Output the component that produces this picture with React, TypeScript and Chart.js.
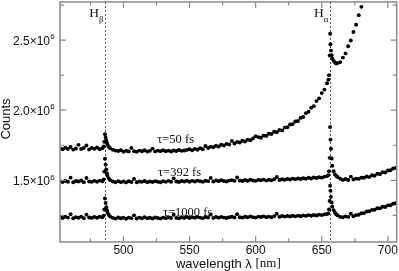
import React, { useEffect, useRef } from "react";
import { Chart, registerables } from "chart.js";

Chart.register(...registerables);

// wavelength in nm
const wavelengths = [
  452, 454, 456, 458, 460, 462, 464, 466, 468, 470, 472, 474, 476, 478, 480, 482, 484,
  485, 485.5, 486, 486.5, 487, 487.5, 488, 489,
  490, 492, 494, 496, 498, 500, 502, 504, 506, 508,
  510, 512, 514, 516, 518, 520, 522, 524, 526, 528,
  530, 532, 534, 536, 538, 540, 542, 544, 546, 548,
  550, 552, 554, 556, 558, 560, 562, 564, 566, 568,
  570, 572, 574, 576, 578, 580, 582, 584, 586, 588,
  590, 592, 594, 596, 598, 600, 602, 604, 606, 608,
  610, 612, 614, 616, 618, 620, 622, 624, 626, 628,
  630, 632, 634, 636, 638, 640, 642, 644, 646, 648,
  650, 652, 654,
  655, 655.5, 656, 656.3, 656.6, 657, 657.5, 658, 659, 660, 661,
  662, 664, 666, 668, 670, 672, 674, 676, 678, 680,
  682, 684, 686, 688, 690, 692, 694, 696, 698, 700,
  702, 704, 706,
];

// counts, in thousands
const counts50 = [
  1728, 1721, 1732, 1724, 1737, 1719, 1727, 1753, 1723, 1730, 1748, 1720, 1731, 1725, 1734, 1722, 1729,
  1742, 1775, 1828, 1806, 1784, 1766, 1753, 1738,
  1728, 1718, 1712, 1709, 1715, 1704, 1711, 1706, 1731, 1708,
  1703, 1712, 1707, 1714, 1705, 1710, 1726, 1706, 1712, 1708,
  1714, 1707, 1712, 1705, 1713, 1709, 1716, 1710, 1713, 1717,
  1722, 1714, 1724, 1718, 1729, 1722, 1745, 1730, 1740, 1736,
  1746, 1741, 1754, 1748, 1760, 1755, 1781, 1762, 1774, 1770,
  1782, 1777, 1790, 1786, 1799, 1814, 1808, 1804, 1819, 1816,
  1832, 1830, 1846, 1843, 1859, 1856, 1876, 1878, 1898, 1901,
  1919, 1923, 1945, 1952, 1979, 1989, 2017, 2029, 2065, 2084,
  2122, 2147, 2192,
  2218, 2250, 2390, 2545, 2470, 2425, 2392, 2368, 2352, 2340, 2333,
  2336, 2343, 2375, 2405, 2456, 2497, 2558, 2609, 2678, 2737,
  2810, null, null, null, null, null, null, null, null, null,
  null, null, null,
];

const counts392 = [
  1494, 1488, 1497, 1490, 1519, 1486, 1495, 1491, 1499, 1487, 1516, 1492, 1489, 1496, 1490, 1498, 1493,
  1506, 1562, 1654, 1612, 1578, 1550, 1531, 1512,
  1501, 1492, 1486, 1494, 1487, 1491, 1485, 1493, 1488, 1510,
  1486, 1492, 1489, 1495, 1487, 1491, 1488, 1494, 1490, 1486,
  1493, 1489, 1496, 1490, 1514, 1492, 1488, 1495, 1491, 1497,
  1490, 1496, 1492, 1498, 1493, 1489, 1497, 1494, 1516, 1492,
  1499, 1494, 1500, 1495, 1492, 1498, 1501, 1496, 1520, 1499,
  1495, 1502, 1497, 1504, 1499, 1496, 1503, 1500, 1505, 1498,
  1504, 1500, 1507, 1524, 1502, 1508, 1504, 1510, 1506, 1512,
  1507, 1513, 1509, 1515, 1511, 1518, 1513, 1520, 1516, 1522,
  1519, 1526, 1530,
  1536, 1565, 1660, 1880, 1790, 1725, 1655, 1604, 1565, 1542, 1530,
  1524, 1511, 1503, 1509, 1502, 1526, 1506, 1512, 1510, 1519,
  1518, 1527, 1523, 1536, 1533, 1547, 1544, 1558, 1556, 1570,
  1572, 1584, 1589,
];

const counts1000 = [
  1238, 1231, 1240, 1234, 1258, 1229, 1237, 1233, 1241, 1230, 1255, 1235, 1232, 1239, 1233, 1240, 1236,
  1248, 1292, 1370, 1338, 1308, 1287, 1269, 1253,
  1241, 1232, 1227, 1235, 1229, 1233, 1226, 1234, 1230, 1250,
  1228, 1234, 1229, 1236, 1230, 1233, 1228, 1235, 1231, 1227,
  1234, 1230, 1236, 1231, 1254, 1232, 1229, 1236, 1232, 1238,
  1231, 1237, 1233, 1239, 1234, 1230, 1238, 1235, 1256, 1232,
  1238, 1233, 1239, 1234, 1231, 1237, 1240, 1235, 1258, 1237,
  1234, 1240, 1236, 1242, 1237, 1234, 1241, 1238, 1243, 1236,
  1241, 1237, 1244, 1261, 1239, 1245, 1241, 1246, 1242, 1247,
  1243, 1248, 1244, 1250, 1246, 1252, 1247, 1253, 1249, 1255,
  1252, 1257, 1260,
  1264, 1292, 1352, 1462, 1425, 1382, 1342, 1312, 1287, 1269, 1257,
  1251, 1239, 1236, 1243, 1239, 1262, 1244, 1252, 1254, 1265,
  1266, 1278, 1279, 1289, 1290, 1301, 1300, 1311, 1310, 1321,
  1322, 1333, 1336,
];

const seriesNames = ["τ=50 fs", "τ=392 fs", "τ=1000 fs"];
// label anchor (wavelength, counts in thousands) for each series name
const seriesLabelAnchors = [
  [525.6, 1788],
  [526.2, 1554],
  [529.9, 1270],
];

const xTicks = [500, 550, 600, 650, 700];
const xMinorTicks = [475, 525, 575, 625, 675];
const yTicks = [1500, 2000, 2500];
const yTickMantissas = ["1.5", "2.0", "2.5"];
const yExponent = "6";
const yMinorTicks = [1250, 1750, 2250, 2750];

const lineWavelengths = [486, 656];
const lineSubscripts = ["β", "α"];

const SANS = "'Liberation Sans', Arial, Helvetica, sans-serif";
const SERIF = "'Liberation Serif', 'Times New Roman', serif";

const decorPlugin = {
  id: "decor",
  beforeDatasetsDraw(chart: any) {
    const { ctx, chartArea: a, scales } = chart;
    const x = scales.x;
    ctx.save();
    ctx.strokeStyle = "#555";
    ctx.lineWidth = 1;
    ctx.setLineDash([2, 2]);
    lineWavelengths.forEach((w) => {
      const px = Math.round(x.getPixelForValue(w)) + 0.5;
      ctx.beginPath();
      ctx.moveTo(px, a.top);
      ctx.lineTo(px, a.bottom);
      ctx.stroke();
    });
    ctx.restore();
  },
  afterDraw(chart: any) {
    const { ctx, chartArea: a, scales } = chart;
    const x = scales.x;
    const y = scales.y;
    ctx.save();
    // frame
    ctx.strokeStyle = "#8a8a8a";
    ctx.lineWidth = 1.5;
    ctx.strokeRect(a.left, a.top, a.right - a.left, a.bottom - a.top);
    // ticks (inward, on all four sides)
    ctx.lineWidth = 1.2;
    const xt = (v: number, len: number) => {
      const px = x.getPixelForValue(v);
      ctx.beginPath();
      ctx.moveTo(px, a.bottom);
      ctx.lineTo(px, a.bottom - len);
      ctx.moveTo(px, a.top);
      ctx.lineTo(px, a.top + len);
      ctx.stroke();
    };
    const yt = (v: number, len: number) => {
      const py = y.getPixelForValue(v);
      ctx.beginPath();
      ctx.moveTo(a.left, py);
      ctx.lineTo(a.left + len, py);
      ctx.moveTo(a.right, py);
      ctx.lineTo(a.right - len, py);
      ctx.stroke();
    };
    xTicks.forEach((v) => xt(v, 6));
    xMinorTicks.forEach((v) => xt(v, 3.5));
    yTicks.forEach((v) => yt(v, 6));
    yMinorTicks.forEach((v) => yt(v, 4));

    // x tick labels
    ctx.fillStyle = "#111";
    ctx.font = `12px ${SANS}`;
    ctx.textAlign = "center";
    ctx.textBaseline = "middle";
    xTicks.forEach((v) => {
      ctx.fillText(String(v), x.getPixelForValue(v), a.bottom + 9);
    });
    // y tick labels with superscript
    yTicks.forEach((v, i) => {
      const py = y.getPixelForValue(v);
      ctx.font = `12px ${SANS}`;
      ctx.textAlign = "right";
      ctx.textBaseline = "middle";
      ctx.fillText(yTickMantissas[i] + "×10", 50, py + 1.5);
      ctx.font = `8px ${SANS}`;
      ctx.textAlign = "left";
      ctx.fillText(yExponent, 50.3, py - 3);
    });
    // y title
    ctx.save();
    ctx.translate(6, (a.top + a.bottom) / 2 - 3);
    ctx.rotate(-Math.PI / 2);
    ctx.font = `13px ${SANS}`;
    ctx.textAlign = "center";
    ctx.textBaseline = "middle";
    ctx.fillText("Counts", 0, 0);
    ctx.restore();
    // x title: sans part + serif unit
    const part1 = "wavelength λ ";
    const part2 = "[nm]";
    ctx.font = `13px ${SANS}`;
    const w1 = ctx.measureText(part1).width;
    ctx.font = `13px ${SERIF}`;
    const w2 = ctx.measureText(part2).width;
    const cx = (a.left + a.right) / 2;
    const startX = cx - (w1 + w2) / 2;
    ctx.textAlign = "left";
    ctx.textBaseline = "middle";
    ctx.font = `13px ${SANS}`;
    ctx.fillText(part1, startX, 264);
    ctx.font = `13px ${SERIF}`;
    ctx.fillText(part2, startX + w1, 264);

    // series labels
    ctx.font = `12.5px ${SERIF}`;
    ctx.textAlign = "left";
    ctx.textBaseline = "middle";
    seriesNames.forEach((name, i) => {
      const [lx, ly] = seriesLabelAnchors[i];
      ctx.fillText(name, x.getPixelForValue(lx), y.getPixelForValue(ly));
    });

    // H line labels
    lineWavelengths.forEach((w, i) => {
      const px = Math.round(x.getPixelForValue(w)) + 0.5;
      ctx.font = `9px ${SERIF}`;
      const ws = ctx.measureText(lineSubscripts[i]).width;
      ctx.font = `13.5px ${SERIF}`;
      const wh = ctx.measureText("H").width;
      const right = px - 2;
      ctx.textAlign = "left";
      ctx.textBaseline = "middle";
      ctx.fillText("H", right - ws - wh, a.top + 12);
      ctx.font = `9px ${SERIF}`;
      ctx.fillText(lineSubscripts[i], right - ws, a.top + 17.5);
    });
    ctx.restore();
  },
};

function toPoints(vals: (number | null)[]) {
  const pts: { x: number; y: number }[] = [];
  vals.forEach((v, i) => {
    if (v !== null) pts.push({ x: wavelengths[i], y: v });
  });
  return pts;
}

export default function App() {
  const ref = useRef<HTMLCanvasElement | null>(null);
  useEffect(() => {
    if (!ref.current) return;
    const all = [counts50, counts392, counts1000];
    const chart = new Chart(ref.current, {
      type: "scatter",
      data: {
        datasets: all.map((vals, i) => ({
          label: seriesNames[i],
          data: toPoints(vals),
          pointRadius: 1.95,
          pointHoverRadius: 0,
          pointBorderWidth: 0,
          pointBackgroundColor: "#000",
          backgroundColor: "#000",
          borderColor: "#000",
          showLine: false,
        })),
      },
      options: {
        animation: false,
        responsive: false,
        events: [],
        layout: { padding: { left: 60, right: 2.3, top: 1, bottom: 29 } },
        plugins: { legend: { display: false }, tooltip: { enabled: false } },
        scales: {
          x: { type: "linear", min: 452, max: 706.7, display: false },
          y: { type: "linear", min: 1060, max: 2772, display: false },
        },
      },
      plugins: [decorPlugin],
    } as any);
    return () => chart.destroy();
  }, []);
  return (
    <div style={{ position: "absolute", left: 0, top: 0, width: 399, height: 271, background: "#fff" }}>
      <canvas ref={ref} width={399} height={271} style={{ display: "block" }} />
    </div>
  );
}
